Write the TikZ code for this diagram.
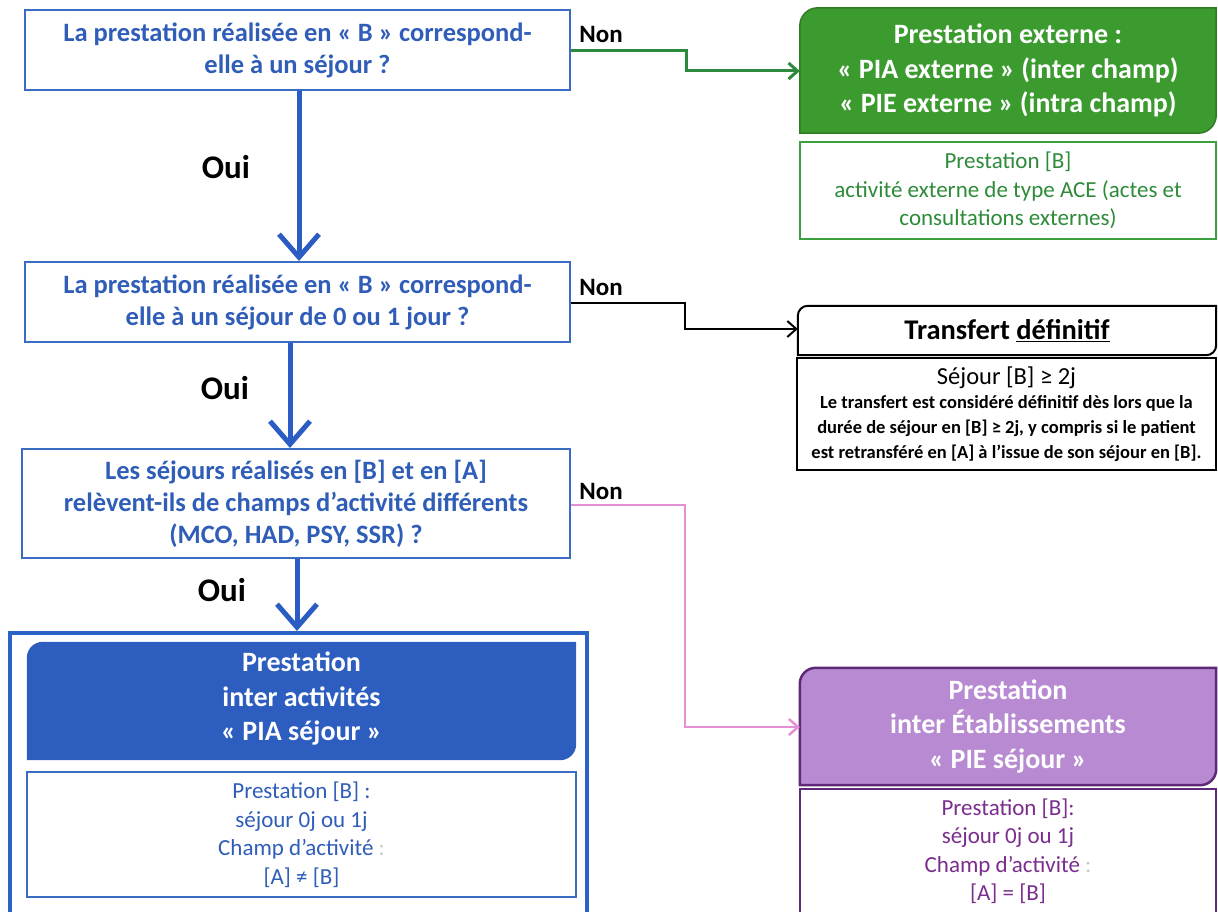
\documentclass[tikz,border=0pt]{standalone}
\usepackage{fontspec}
\setmainfont{Carlito}
\usetikzlibrary{arrows.meta,backgrounds}
\definecolor{qblue}{HTML}{2F5DB8}
\definecolor{qborder}{HTML}{3B6CC4}
\definecolor{oblue}{HTML}{2B5CC4}
\definecolor{piafill}{HTML}{2C5DBF}
\definecolor{piaouter}{HTML}{2A62C8}
\definecolor{gfill}{HTML}{3B9B2F}
\definecolor{gborder}{HTML}{3AA040}
\definecolor{gtext}{HTML}{2E8B3A}
\definecolor{garrow}{HTML}{2C8A3E}
\definecolor{parrow}{HTML}{E58FD4}
\definecolor{piefill}{HTML}{B78AD2}
\definecolor{pieborder}{HTML}{5E2A78}
\definecolor{pietext}{HTML}{7B2E8E}
\definecolor{lgray}{HTML}{C8C8C8}
\newcommand\smallbold{\fontsize{18.5}{23.5}\selectfont\bfseries}
\begin{document}
\begin{tikzpicture}[x=1pt,y=-1pt,
  qbox/.style={draw=qborder, line width=2pt, fill=white, text=qblue, align=center, inner sep=0pt,
    font={\fontsize{26.5}{32}\selectfont\bfseries}},
  hdr/.style={align=center, inner sep=0pt, text=white, font={\fontsize{28}{34.5}\selectfont\bfseries}},
  sub/.style={align=center, inner sep=0pt, font={\fontsize{23}{28.5}\selectfont}},
  oui/.style={font={\fontsize{33}{33}\selectfont\bfseries}, text=black},
  non/.style={font={\fontsize{25}{25}\selectfont\bfseries}, text=black},
  ouiarrow/.style={draw=oblue, line width=5pt, -{Straight Barb[length=23pt,width=40pt,line width=5pt]}},
  nonarrow/.style={line width=#1, -{Straight Barb[length=9pt,width=16pt]}},
]
\useasboundingbox (0,0) rectangle (1218,912);

% questions
\node[qbox, minimum width=545pt, minimum height=80pt] (q1) at (297.5,50)
  {La prestation réalisée en « B » correspond-\\elle à un séjour ?};
\node[qbox, minimum width=545pt, minimum height=80pt] (q2) at (297.5,302)
  {La prestation réalisée en « B » correspond-\\elle à un séjour de 0 ou 1 jour ?};
\node[qbox, minimum width=548pt, minimum height=109pt] (q3) at (296,503.5)
  {Les séjours réalisés en [B] et en [A]\\relèvent-ils de champs d’activité différents\\(MCO, HAD, PSY, SSR) ?};

% PIA block
\node[draw=piaouter, line width=4pt, minimum width=577pt, minimum height=290pt, inner sep=0pt] (piaout) at (298.5,778) {};
\node[hdr, minimum width=549pt, minimum height=118pt] (piah) at (301.5,701) {};
\node[hdr] (piaht) at (301.5,699) {Prestation\\inter activités\\« PIA séjour »};
\node[sub, draw=qborder, line width=2.5pt, text=qblue, minimum width=549pt, minimum height=125pt] (piab) at (301.5,834.5)
  {Prestation [B] :\\séjour 0j ou 1j\\Champ d’activité \textcolor{lgray}{:}\\{}[A] ≠ [B]};

% green external
\node[hdr, minimum width=416pt, minimum height=125pt] (exth) at (1008,70.5)
  {Prestation externe :\\« PIA externe » (inter champ)\\« PIE externe » (intra champ)};
\node[sub, draw=gborder, line width=2pt, text=gtext, minimum width=416pt, minimum height=97pt] (extb) at (1008,190.5)
  {Prestation [B]\\activité externe de type ACE (actes et\\consultations externes)};

% transfert
\node[inner sep=0pt, minimum width=418pt, minimum height=49pt, font={\fontsize{28.5}{28.5}\selectfont\bfseries}] (trh) at (1007,330.5)
  {Transfert \underline{définitif}};
\node[draw=black, line width=1.6pt, inner sep=0pt, minimum width=419pt, minimum height=112pt, align=center, font={\fontsize{24.5}{25}\selectfont}] (trb) at (1006.5,414)
  {\\[-6pt]Séjour [B] ≥ 2j\\[-1pt]
   \smallbold Le transfert est considéré définitif dès lors que la\\
   \smallbold durée de séjour en [B] ≥ 2j, y compris si le patient\\
   \smallbold est retransféré en [A] à l’issue de son séjour en [B].};

% PIE
\node[hdr, minimum width=416pt, minimum height=117pt] (pieh) at (1008,726.5)
  {Prestation\\inter Établissements\\« PIE séjour »};
\node[draw=pieborder, line width=2.5pt, inner sep=0pt, minimum width=416pt, minimum height=140pt] (pieb) at (1008,859) {};
\node[sub, text=pietext] (piebt) at (1008,851)
  {Prestation [B]:\\séjour 0j ou 1j\\Champ d’activité \textcolor{lgray}{:}\\{}[A] = [B]};

\begin{scope}[on background layer]
  \fill[white] (0,0) rectangle (1218,912);
  \fill[piafill] ([yshift=-16pt]piah.north west) arc[start angle=180,end angle=90,radius=16pt]
    -- (piah.north east) -- ([yshift=16pt]piah.south east) arc[start angle=0,end angle=-90,radius=16pt]
    -- (piah.south west) -- cycle;
  \draw[gfill!80!black, line width=1.5pt, fill=gfill] ([yshift=-18pt]exth.north west) arc[start angle=180,end angle=90,radius=18pt]
    -- (exth.north east) -- ([yshift=18pt]exth.south east) arc[start angle=0,end angle=-90,radius=18pt]
    -- (exth.south west) -- cycle;
  \draw[black, line width=2pt, fill=white] ([yshift=-10pt]trh.north west) arc[start angle=180,end angle=90,radius=10pt]
    -- (trh.north east) -- ([yshift=10pt]trh.south east) arc[start angle=0,end angle=-90,radius=10pt]
    -- (trh.south west) -- cycle;
  \draw[pieborder, line width=2.5pt, fill=piefill] ([yshift=-16pt]pieh.north west) arc[start angle=180,end angle=90,radius=16pt]
    -- (pieh.north east) -- ([yshift=16pt]pieh.south east) arc[start angle=0,end angle=-90,radius=16pt]
    -- (pieh.south west) -- cycle;
\end{scope}

% Oui arrows
\draw[ouiarrow] (q1.south -| 299,0) -- (q2.north -| 299,0);
\draw[ouiarrow] (q2.south -| 290,0) -- (q3.north -| 290,0);
\draw[ouiarrow] (q3.south -| 297,0) -- (piaout.north -| 297,0);
\node[oui] (o1) at (226,167) {Oui};
\node[oui] (o2) at (225,388) {Oui};
\node[oui] (o3) at (222,590) {Oui};

% Non arrows
\coordinate (g1) at (686,51);
\coordinate (g2) at (686,71);
\draw[nonarrow=3pt, garrow] (q1.east |- g1) -- (g1) -- (g2) -- (exth.west |- g2);
\coordinate (b1) at (685,303);
\coordinate (b2) at (685,329);
\draw[nonarrow=2pt, black] (q2.east |- b1) -- (b1) -- (b2) -- (trh.west |- b2);
\coordinate (p1) at (685,505);
\coordinate (p2) at (685,727);
\draw[nonarrow=2.5pt, parrow] (q3.east |- p1) -- (p1) -- (p2) -- (pieh.west |- p2);
\node[non] (n1) at (601,34) {Non};
\node[non] (n2) at (601,287) {Non};
\node[non] (n3) at (601,491) {Non};
\end{tikzpicture}
\end{document}
